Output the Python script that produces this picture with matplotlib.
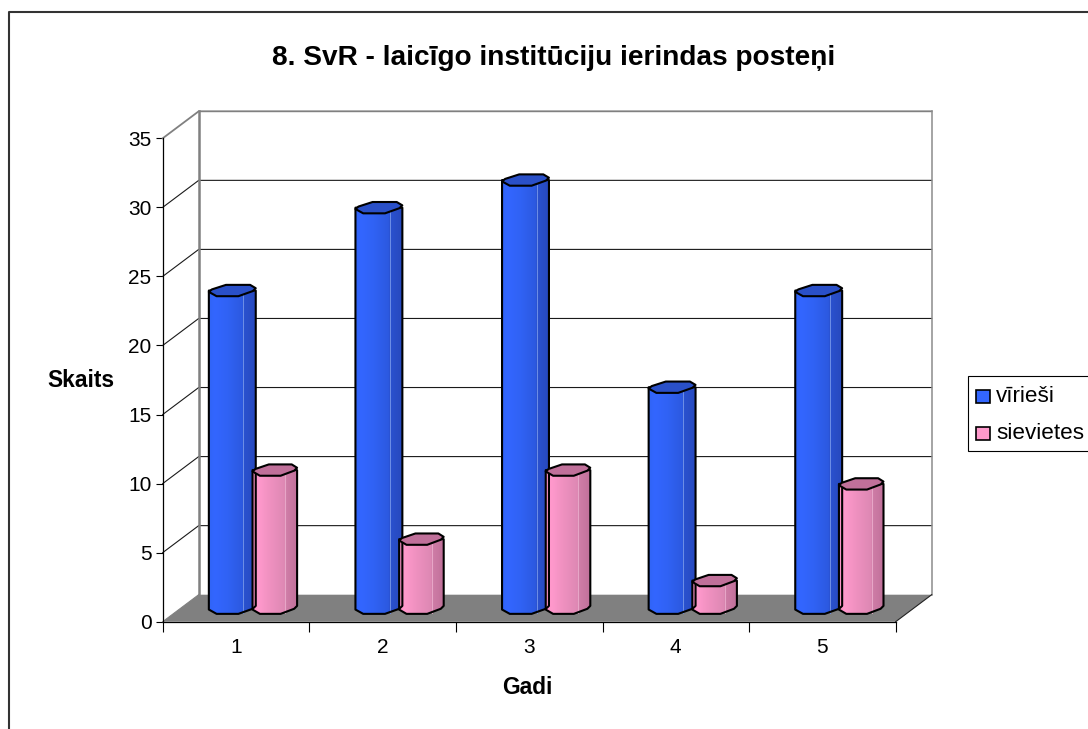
import numpy as np
import matplotlib
matplotlib.use('Agg')
import matplotlib.pyplot as plt
from matplotlib.patches import Polygon, Rectangle
from matplotlib.colors import LinearSegmentedColormap
from matplotlib.lines import Line2D

plt.rcParams['font.family'] = ['Liberation Sans', 'DejaVu Sans']

W, H = 1088, 729

title = '8. SvR - laicīgo institūciju ierindas posteņi'
categories = ['1', '2', '3', '4', '5']
viriesi = [23, 29, 31, 16, 23]
sievietes = [10, 5, 10, 2, 9]
series_names = ['vīrieši', 'sievietes']
y_ticks = [0, 5, 10, 15, 20, 25, 30, 35]

# depth of the fake 3d box, in data units
DX = 36 / 146.6
DY = 27 / 13.81

# octagon of the cylinder cap, (u, v) from -1 to 1
cap = [(-1, -0.24), (-0.87, 0.2), (-0.27, 1), (0.76, 1), (1, 0.41), (0.87, -0.1), (0.26, -1), (-0.67, -1)]
lower = [(1, 0.41), (0.87, -0.1), (0.26, -1), (-0.67, -1), (-1, -0.24)]

blue_cm = LinearSegmentedColormap.from_list('b', [(0, '#3064f6'), (0.12, '#3366ff'), (0.4, '#3062f4'),
                                                  (0.72, '#2c59e0'), (0.74, '#2a52d0'), (1, '#2749be')])
pink_cm = LinearSegmentedColormap.from_list('p', [(0, '#fb94c8'), (0.12, '#ff99cc'), (0.4, '#ee90bf'),
                                                  (0.72, '#dd88b3'), (0.74, '#d07ea8'), (1, '#c0709a')])

fig = plt.figure(figsize=(W / 100, H / 100), dpi=100, facecolor='white')
ax = fig.add_axes([162.7 / W, 1 - 621.7 / H, 733 / W, 483.4 / H])
ax.patch.set_visible(False)


def px(x, y, s, **kw):
    fig.text(x / W, 1 - y / H, s, **kw)


def cylinder(xc, value, half_w, cm, top_col, line_col):
    hh = 0.41
    xc = xc + DX / 2
    base = DY / 2
    top = base + value
    body = [(xc - half_w, top), (xc + half_w, top)] + [(xc + u * half_w, base + v * hh) for u, v in lower]
    # shading strips sit in an image clipped to the outline
    im = ax.imshow(np.linspace(0, 1, 64)[None, :], cmap=cm, aspect='auto', zorder=4, interpolation='bilinear',
                   extent=[xc - half_w, xc + half_w, base - hh, top])
    clip = Polygon(body, closed=True, transform=ax.transData)
    im.set_clip_path(clip)
    ax.add_patch(Polygon(body, closed=True, fc='none', ec='black', lw=1.5, zorder=5, clip_on=False, joinstyle='round'))
    ax.plot([xc + 0.47 * half_w] * 2, [base - 0.8 * hh, top - 0.8 * hh], color=line_col, lw=0.7, zorder=4.5)
    pts = [(xc + u * half_w, top + v * hh) for u, v in cap]
    ax.add_patch(Polygon(pts, closed=True, fc=top_col, ec='black', lw=1.5, zorder=6, clip_on=False, joinstyle='round'))


# floor and walls
ax.add_patch(Polygon([(0, 0), (5, 0), (5 + DX, DY), (DX, DY)], closed=True, fc='#808080', ec='none', zorder=1, clip_on=False))
for v in y_ticks[1:-1]:
    ax.plot([0, DX, 5 + DX], [v, v + DY, v + DY], color='#1a1a1a', lw=0.8, zorder=2, clip_on=False)
ax.plot([0, DX, 5 + DX], [35, 35 + DY, 35 + DY], color='#808080', lw=1.3, zorder=2, clip_on=False)
ax.plot([DX, DX], [DY, 35 + DY], color='#808080', lw=1.8, zorder=2, clip_on=False)
ax.plot([5 + DX, 5 + DX], [DY, 35 + DY], color='#8c8c8c', lw=1.1, zorder=2, clip_on=False)
ax.plot([0, DX], [0, DY], color='#808080', lw=0.8, zorder=2, clip_on=False)
ax.plot([5, 5 + DX], [0, DY], color='#222222', lw=0.8, zorder=2, clip_on=False)

# bars
for i in range(len(categories)):
    cylinder(i + 0.352, viriesi[i], 0.16, blue_cm, '#2a50c8', '#6f8fe6')
    cylinder(i + 0.642, sievietes[i], 0.152, pink_cm, '#c0709a', '#e8a8c8')

ax.set_xlim(0, 5)
ax.set_ylim(0, 35)
for s in ['top', 'right']:
    ax.spines[s].set_visible(False)
ax.spines['left'].set_linewidth(0.9)
ax.spines['bottom'].set_linewidth(0.9)
ax.spines['left'].set_zorder(3)
ax.set_yticks(y_ticks)
ax.tick_params(axis='y', length=5, width=0.8, labelsize=15, pad=3)
ax.set_xticks(range(6))
ax.set_xticklabels([])
ax.tick_params(axis='x', which='major', length=7, width=0.8)
ax.set_xticks(np.arange(5) + 0.5, minor=True)
ax.set_xticklabels(categories, minor=True)
ax.tick_params(axis='x', which='minor', length=0, labelsize=15, pad=11.5)

# chart area border, only left and top are inside the picture
fig.add_artist(Line2D([9 / W, 9 / W, 1], [0, 1 - 12 / H, 1 - 12 / H], color='#333333', lw=1.5))

px(554, 58, title, fontsize=20.2, fontweight='bold', ha='center', va='center')
px(81, 381, 'Skaits', fontsize=16.4, fontweight='bold', ha='center', va='center')
px(527, 687, 'Gadi', fontsize=16.4, fontweight='bold', ha='center', va='center')

# legend
fig.add_artist(Rectangle((967.5 / W, 1 - 450.5 / H), 130 / W, 75 / H, transform=fig.transFigure,
                         fc='white', ec='black', lw=0.8))
for j, (name, col) in enumerate(zip(series_names, ['#3366ff', '#ff99cc'])):
    yy = 390 + j * 37
    fig.add_artist(Rectangle((976 / W, 1 - (yy + 13) / H), 13.5 / W, 13 / H, transform=fig.transFigure,
                             fc=col, ec='black', lw=1.2))
    px(996, yy + 6.5, name, fontsize=16.2, ha='left', va='center')

fig.savefig('out.png', dpi=100)
